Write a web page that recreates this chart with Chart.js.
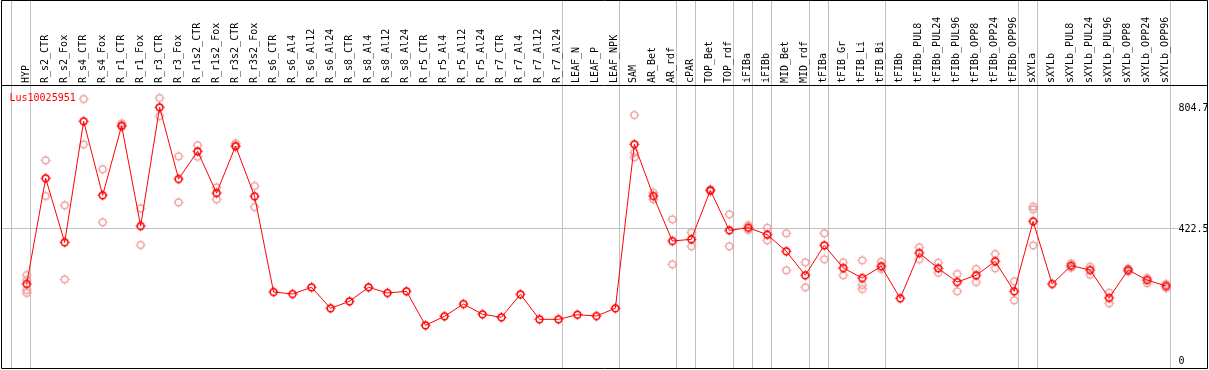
<!DOCTYPE html>
<html>
<head>
<meta charset="utf-8">
<script src="https://cdn.jsdelivr.net/npm/chart.js@4.4.1/dist/chart.umd.min.js"></script>
<style>
  body { margin: 0; background: #fff; }
  #wrap { width: 1209px; height: 370px; }
</style>
</head>
<body>
<div id="wrap"><canvas id="myChart" width="1209" height="370"></canvas></div>
<script>
// data
var categories = ['HYP','R_s2_CTR','R_s2_Fox','R_s4_CTR','R_s4_Fox','R_r1_CTR','R_r1_Fox','R_r3_CTR','R_r3_Fox',
  'R_r1s2_CTR','R_r1s2_Fox','R_r3s2_CTR','R_r3s2_Fox','R_s6_CTR','R_s6_Al4','R_s6_Al12','R_s6_Al24',
  'R_s8_CTR','R_s8_Al4','R_s8_Al12','R_s8_Al24','R_r5_CTR','R_r5_Al4','R_r5_Al12','R_r5_Al24',
  'R_r7_CTR','R_r7_Al4','R_r7_Al12','R_r7_Al24','LEAF_N','LEAF_P','LEAF_NPK','SAM','AR_Bet','AR_rdf',
  'cPAR','TOP_Bet','TOP_rdf','iFIBa','iFIBb','MID_Bet','MID_rdf','tFIBa','tFIB_Gr','tFIB_Li','tFIB_Bi',
  'tFIBb','tFIBb_PUL8','tFIBb_PUL24','tFIBb_PUL96','tFIBb_OPP8','tFIBb_OPP24','tFIBb_OPP96',
  'sXYLa','sXYLb','sXYLb_PUL8','sXYLb_PUL24','sXYLb_PUL96','sXYLb_OPP8','sXYLb_OPP24','sXYLb_OPP96'];

var meanValues = [246.7,580.6,378.4,760.6,526.9,746.7,429.9,804.7,578.3,
  665.8,534.1,682.6,523.7,221.4,215.1,236.3,169.9,
  192.0,236.3,218.3,223.6,116.2,144.7,183.5,151.0,
  141.5,214.2,135.2,135.2,149.7,145.6,169.9,688.0,524.6,382.5,
  387.9,542.6,416.3,424.5,402.4,350.0,274.2,368.9,297.2,265.6,302.6,
  201.5,344.6,296.3,253.0,274.2,318.4,223.6,
  444.7,246.7,304.5,290.9,202.5,290.9,259.3,240.4];

var repA = [275.1,637.4,495.3,831.0,609.0,754.3,485.8,834.2,650.0,
  684.8,552.1,691.1,556.2,null,null,null,null,
  null,null,null,null,null,null,null,null,
  null,null,null,null,null,null,null,780.5,535.1,451.0,
  410.0,545.8,466.8,432.1,424.5,406.8,315.2,406.8,315.2,321.5,317.1,
  null,362.6,314.0,278.3,294.1,341.4,255.2,
  490.8,null,312.1,301.3,219.2,296.0,265.6,246.7];

var repB = [259.3,524.6,261.5,688.0,441.6,743.5,369.9,777.3,504.7,
  648.8,514.2,680.4,489.9,null,null,null,null,
  null,null,null,null,null,null,null,null,
  null,null,null,null,null,null,null,661.4,514.2,308.9,
  365.8,539.5,365.8,417.3,384.7,290.0,236.3,324.7,274.2,243.5,294.1,
  null,324.7,282.4,223.6,253.0,296.3,195.2,
  482.6,null,298.2,276.1,185.7,286.0,248.9,234.0];

var repC = [227.7,null,null,null,null,null,null,null,null,
  null,null,null,null,null,null,null,null,
  null,null,null,null,null,null,null,null,
  null,null,null,null,null,null,null,646.9,null,null,
  null,null,null,null,null,null,null,null,null,230.9,null,
  null,null,null,null,null,null,null,
  368.9,null,null,null,null,null,null,null];

var repD = [218.3];

var yTicks = [0, 422.5, 804.7];
// vertical separators sit just right of these category indexes
var groupEnds = [-1, 0, 28, 31, 34, 35, 37, 38, 39, 41, 42, 45, 52, 53, 60];

var geneName = 'Lus10025951';

function makeMarker(color, lw) {
  var c = document.createElement('canvas');
  c.width = 13; c.height = 13;
  var g = c.getContext('2d');
  g.strokeStyle = color;
  g.lineWidth = lw;
  g.beginPath();
  g.arc(6.5, 6.5, 3.4, 0, Math.PI * 2);
  g.stroke();
  g.lineWidth = 1;
  g.beginPath();
  g.moveTo(6.5, 1.5); g.lineTo(6.5, 2.8);
  g.moveTo(6.5, 10.2); g.lineTo(6.5, 11.5);
  g.moveTo(1.5, 6.5); g.lineTo(2.8, 6.5);
  g.moveTo(10.2, 6.5); g.lineTo(11.5, 6.5);
  g.stroke();
  return c;
}

var meanPts = meanValues.map(function (v, i) { return { x: i, y: v }; });
var repPts = [];
[repA, repB, repC, repD].forEach(function (arr) {
  arr.forEach(function (v, i) {
    if (v !== null && v !== undefined) repPts.push({ x: i, y: v });
  });
});

var monoFont = '10px "DejaVu Sans Mono", monospace';

var decorPlugin = {
  id: 'decor',
  beforeDatasetsDraw: function (chart) {
    // group separators, full height through the header
    var c = chart.ctx;
    var xs = chart.scales.x;
    c.save();
    c.strokeStyle = '#c0c0c0';
    c.lineWidth = 1;
    c.beginPath();
    groupEnds.forEach(function (g) {
      var x = Math.round(xs.getPixelForValue(g + 0.19)) + 0.5;
      c.moveTo(x, 0);
      c.lineTo(x, 369);
    });
    c.stroke();
    c.restore();
  },
  afterDraw: function (chart) {
    var c = chart.ctx;
    var xs = chart.scales.x;
    var ys = chart.scales.y;
    var area = chart.chartArea;
    c.save();
    // header labels
    c.font = monoFont;
    c.fillStyle = '#000';
    c.textAlign = 'left';
    c.textBaseline = 'alphabetic';
    categories.forEach(function (lab, i) {
      var x = xs.getPixelForValue(i) + 2;
      c.save();
      c.translate(x, 83);
      c.rotate(-Math.PI / 2);
      c.fillText(lab, 0, 0);
      c.restore();
    });
    // right value labels
    yTicks.forEach(function (v) {
      var y = Math.min(ys.getPixelForValue(v) + 1.5, area.bottom - 8);
      c.textBaseline = 'middle';
      c.fillText(String(v), 1178.5, y);
    });
    // gene name
    c.fillStyle = '#ff0000';
    c.textBaseline = 'alphabetic';
    c.fillText(geneName, 9.5, 101);
    // frame
    c.strokeStyle = '#000';
    c.lineWidth = 1;
    c.beginPath();
    c.rect(1.5, 0.5, 1206, 368);
    c.moveTo(1, 85.5); c.lineTo(1208, 85.5);
    c.stroke();
    c.restore();
  }
};

const ctx = document.getElementById('myChart');
new Chart(ctx, {
  type: 'line',
  data: {
    datasets: [{
      data: meanPts,
      borderColor: '#ff0000',
      borderWidth: 1,
      pointStyle: makeMarker('#ff0000', 1.6),
      pointRadius: 5,
      tension: 0,
      order: 1
    }, {
      data: repPts,
      showLine: false,
      pointStyle: makeMarker('rgb(238,150,150)', 1.2),
      pointRadius: 5,
      order: 2
    }]
  },
  options: {
    responsive: false,
    animation: false,
    events: [],
    layout: { autoPadding: false, padding: { left: 1, right: 1, top: 0, bottom: 1 } },
    plugins: { legend: { display: false }, tooltip: { enabled: false } },
    scales: {
      x: {
        type: 'linear',
        position: 'top',
        min: -1.353,
        max: 60.26,
        afterFit: function (scale) { scale.height = 85; },
        ticks: { display: false },
        border: { display: false },
        grid: { display: false }
      },
      y: {
        type: 'linear',
        position: 'right',
        min: -21.8,
        max: 875.3,
        afterBuildTicks: function (scale) {
          scale.ticks = yTicks.map(function (v) { return { value: v }; });
        },
        afterFit: function (scale) { scale.width = 37; },
        ticks: { display: false },
        border: { display: false },
        grid: {
          color: function (c) { return c.tick && c.tick.value === 422.5 ? '#c0c0c0' : 'rgba(0,0,0,0)'; },
          lineWidth: 1,
          drawTicks: true,
          tickLength: 7
        }
      }
    }
  },
  plugins: [decorPlugin]
});
</script>
</body>
</html>
